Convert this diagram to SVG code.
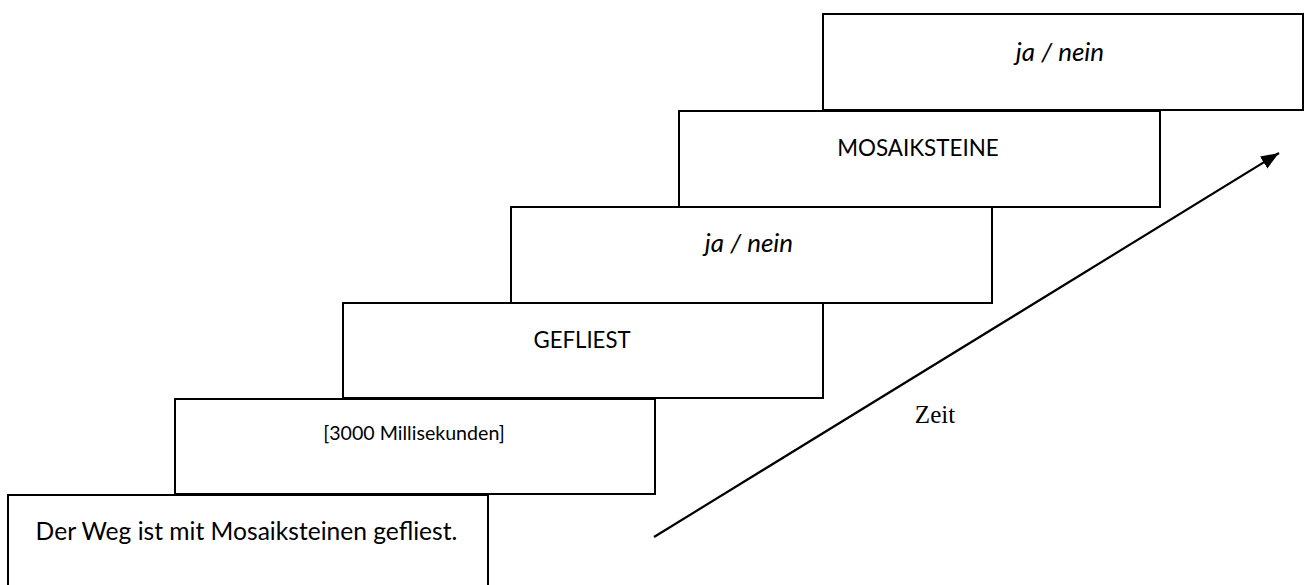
<svg xmlns="http://www.w3.org/2000/svg" width="1304" height="585" viewBox="0 0 1304 585">
<style>
.box{fill:#fff;stroke:#000;stroke-width:2}
.t{font-family:Lato,"Liberation Sans",sans-serif;fill:#000;text-anchor:middle}
.i{font-style:italic}
.conn{stroke:#000;stroke-width:2.2;fill:none}
</style>
<defs>
<marker id="ah" markerUnits="userSpaceOnUse" markerWidth="20" markerHeight="16" refX="18" refY="7" orient="auto">
<path d="M0,0 L18,7 L0,14 Z" fill="#000"/>
</marker>
</defs>
<rect width="1304" height="585" fill="#fff"/>
<g id="n6"><rect class="box" x="823" y="14" width="480" height="96"/><text class="t i" x="1060" y="61" font-size="26">ja / nein</text></g>
<g id="n5"><rect class="box" x="679" y="111" width="481" height="96"/><text class="t" x="918" y="156" font-size="22.4">MOSAIKSTEINE</text></g>
<g id="n4"><rect class="box" x="511" y="207" width="481" height="96"/><text class="t i" x="749" y="252" font-size="26">ja / nein</text></g>
<g id="n3"><rect class="box" x="343" y="303" width="480" height="95"/><text class="t" x="582" y="348" font-size="22.2">GEFLIEST</text></g>
<g id="n2"><rect class="box" x="175" y="399" width="480" height="95"/><text class="t" x="414" y="440" font-size="19.6">[3000 Millisekunden]</text></g>
<g id="n1"><rect class="box" x="8" y="495" width="480" height="100"/><text class="t" x="246.5" y="540" font-size="24.6">Der Weg ist mit Mosaiksteinen gefliest.</text></g>
<g id="connectors">
<line class="conn" x1="654" y1="537" x2="1279" y2="153" marker-end="url(#ah)"/>
</g>
<text x="935" y="423" font-family="Liberation Serif,serif" font-size="25" text-anchor="middle" fill="#000">Zeit</text>
</svg>
